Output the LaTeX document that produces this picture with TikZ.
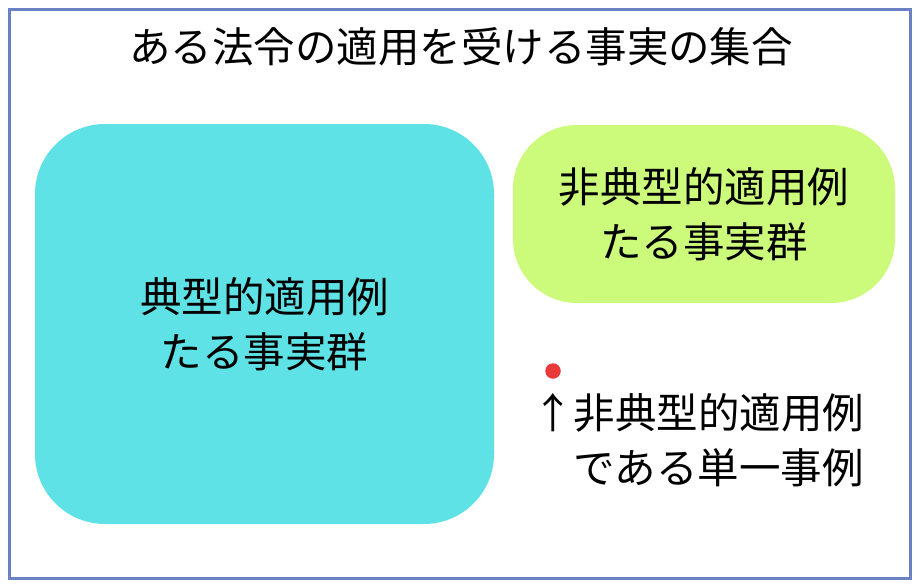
\documentclass[tikz,border=0pt]{standalone}
\usepackage{fontspec}
\setmainfont{Noto Sans CJK JP}
\usetikzlibrary{positioning}
\definecolor{framecol}{HTML}{6A82C4}
\definecolor{typcol}{HTML}{5EE2E6}
\definecolor{atypcol}{HTML}{CCFA7A}
\definecolor{dotred}{HTML}{E83A3A}
\tikzset{every node/.style={font=\fontsize{41.5}{55.5}\selectfont, align=center}}

\begin{document}
\begin{tikzpicture}[x=1pt, y=-1pt]

\useasboundingbox (0,0) rectangle (919,586);

% 外枠
\draw[framecol, line width=2.2] (9.5,9.5) rectangle (910.5,578.5);

\node (title) at (461,47) {ある法令の適用を受ける事実の集合};

% 典型的適用例
\node[fill=typcol, rounded corners=70, minimum width=459, minimum height=400, inner sep=0] (typ) at (264.5,324) {典型的適用例\\たる事実群};

% 非典型的適用例
\node[fill=atypcol, rounded corners=64, minimum width=382, minimum height=178, inner sep=0] (atyp) at (704,214) {非典型的適用例\\たる事実群};

% 単一事例
\node[circle, fill=dotred, inner sep=0, minimum size=15.5] (case) at (553,371) {};
\node[anchor=west, align=left, inner sep=0] (caselbl) at (532,440) {↑非典型的適用例\\　である単一事例};

\end{tikzpicture}
\end{document}
